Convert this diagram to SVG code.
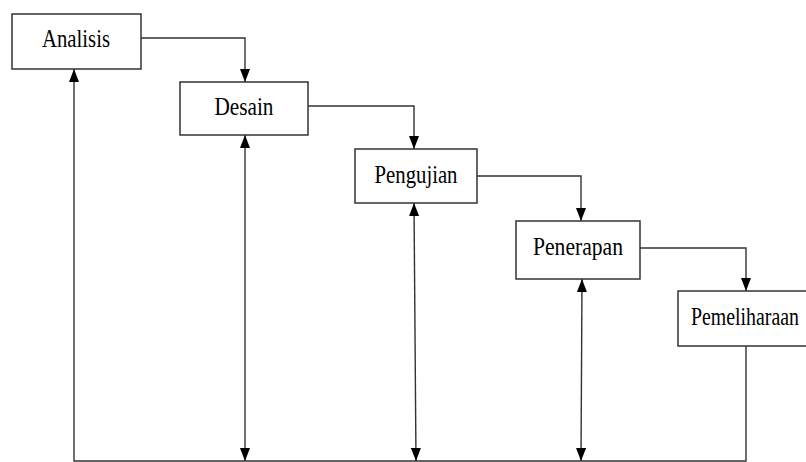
<svg xmlns="http://www.w3.org/2000/svg" width="806" height="462" viewBox="0 0 806 462">
<defs>
<marker id="ah" markerUnits="userSpaceOnUse" markerWidth="13" markerHeight="10" viewBox="0 0 13 10" refX="13" refY="5" orient="auto">
<path d="M0,0 L13,5 L0,10 Z" fill="#000"/>
</marker>
<marker id="ahs" markerUnits="userSpaceOnUse" markerWidth="13" markerHeight="10" viewBox="0 0 13 10" refX="13" refY="5" orient="auto-start-reverse">
<path d="M0,0 L13,5 L0,10 Z" fill="#000"/>
</marker>
</defs>
<style>
.box{fill:#fff;stroke:#333;stroke-width:1.5}
.lbl{font-family:"Liberation Serif","Times New Roman",serif;font-size:26px;fill:#000;text-anchor:middle}
.c{fill:none;stroke:#333;stroke-width:1.4}
</style>
<rect width="806" height="462" fill="#fff"/>
<g id="connectors">
<path class="c" d="M141,38 H245 V82" marker-end="url(#ah)"/>
<path class="c" d="M308,106 H414 V149" marker-end="url(#ah)"/>
<path class="c" d="M477,176 H581 V221" marker-end="url(#ah)"/>
<path class="c" d="M640,248 H746 V291" marker-end="url(#ah)"/>
<path class="c" d="M746,346 V461 H74 V69" marker-end="url(#ah)"/>
<path class="c" d="M245,135 V461" marker-start="url(#ahs)" marker-end="url(#ah)"/>
<path class="c" d="M414,203 L416,461" marker-start="url(#ahs)" marker-end="url(#ah)"/>
<path class="c" d="M582,279 L581,461" marker-start="url(#ahs)" marker-end="url(#ah)"/>
</g>
<g id="analisis">
<rect class="box" x="12" y="14" width="129" height="55"/>
<text class="lbl" x="76" y="47" textLength="68" lengthAdjust="spacingAndGlyphs">Analisis</text>
</g>
<g id="desain">
<rect class="box" x="180" y="82" width="128" height="53"/>
<text class="lbl" x="244" y="115" textLength="59" lengthAdjust="spacingAndGlyphs">Desain</text>
</g>
<g id="pengujian">
<rect class="box" x="355" y="149" width="122" height="54"/>
<text class="lbl" x="416" y="183" textLength="83" lengthAdjust="spacingAndGlyphs">Pengujian</text>
</g>
<g id="penerapan">
<rect class="box" x="516" y="221" width="124" height="58"/>
<text class="lbl" x="578" y="255" textLength="90" lengthAdjust="spacingAndGlyphs">Penerapan</text>
</g>
<g id="pemeliharaan">
<rect class="box" x="678" y="291" width="134" height="55"/>
<text class="lbl" x="745" y="325" textLength="108" lengthAdjust="spacingAndGlyphs">Pemeliharaan</text>
</g>
</svg>
